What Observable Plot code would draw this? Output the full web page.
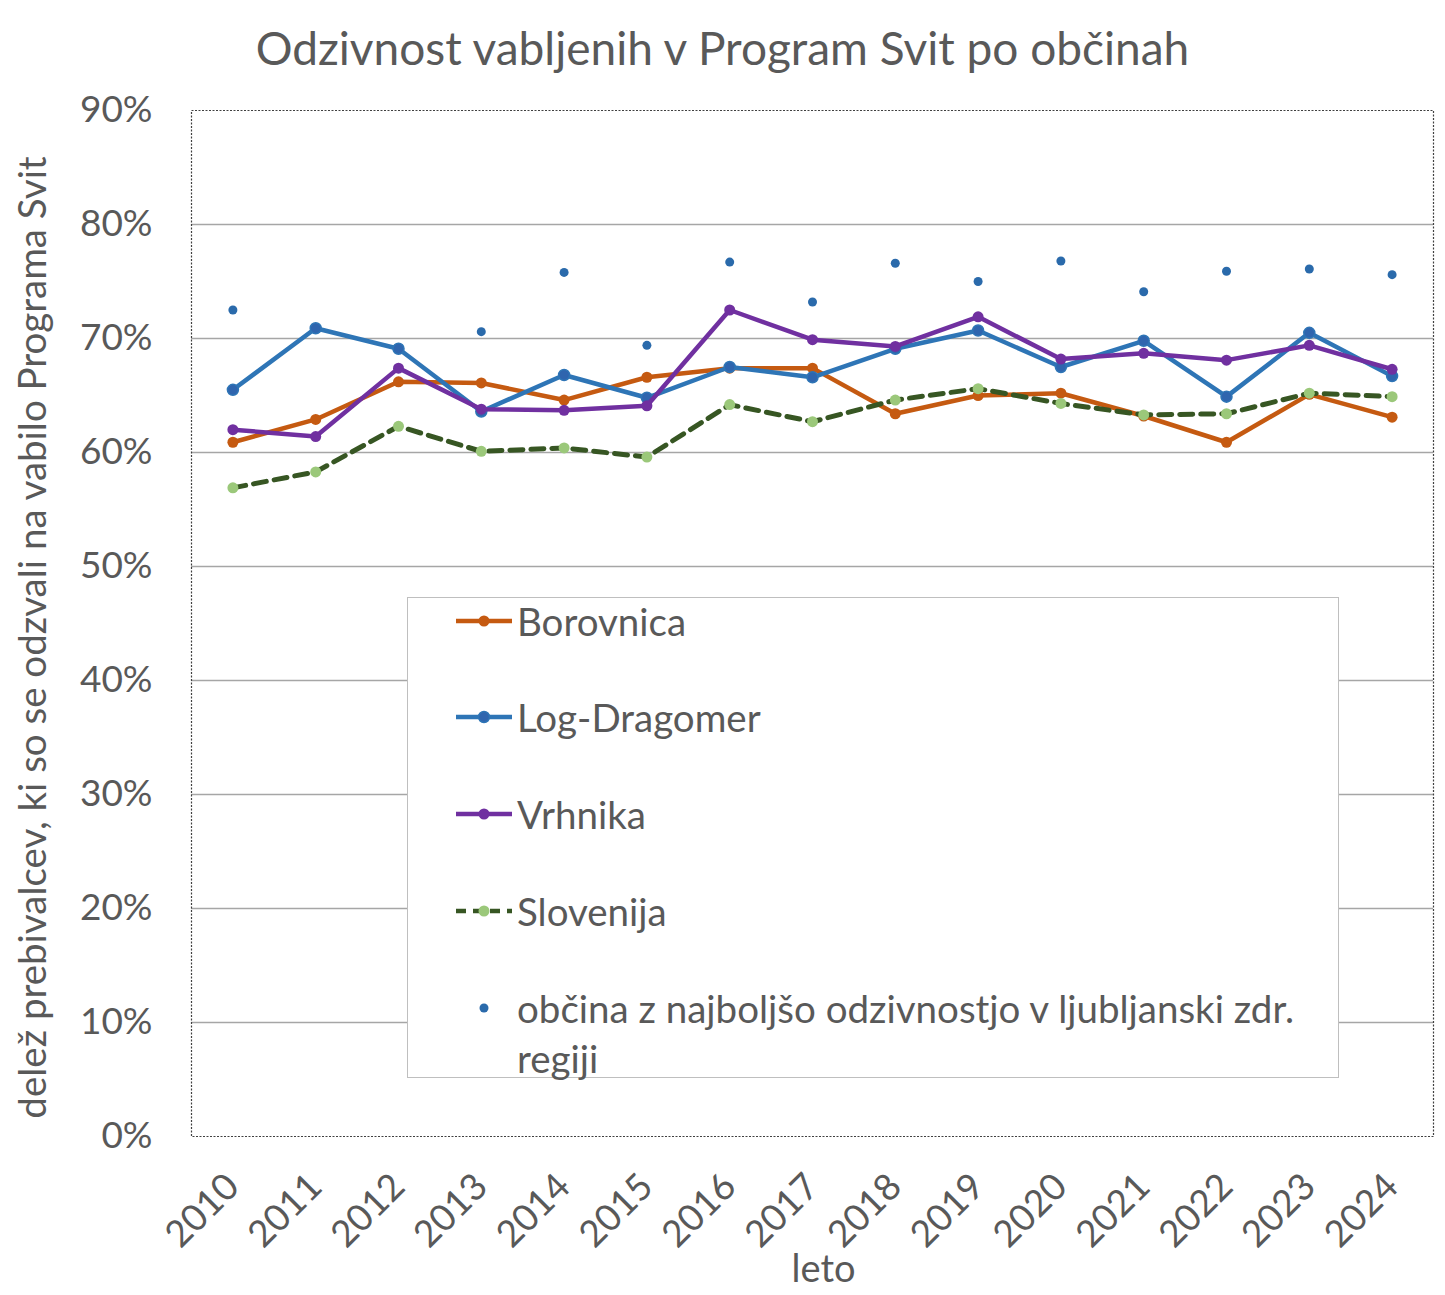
<!DOCTYPE html>
<html>
<head>
<meta charset="utf-8">
<script src="https://cdn.jsdelivr.net/npm/d3@7"></script>
<script src="https://cdn.jsdelivr.net/npm/@observablehq/plot@0.6"></script>
<style>
  html, body { margin: 0; padding: 0; background: #fff; }
  body { width: 1445px; height: 1295px; position: relative; overflow: hidden; font-family: Lato, "Open Sans", sans-serif; }
  #title { height: 90px; line-height: 96px; text-align: center; font-size: 46px; color: #595959; }
  #legend { position: absolute; left: 407px; top: 597px; width: 932px; height: 481px; background: #fff; border: 1px solid #bfbfbf; box-sizing: border-box; }
  .entry { position: absolute; left: 0; width: 900px; font-size: 38.5px; color: #595959; }
  .entry svg { position: absolute; left: 46px; }
  .entry span { position: absolute; left: 109px; white-space: nowrap; line-height: 50px; }
</style>
</head>
<body>
<div id="title">Odzivnost vabljenih v Program Svit po občinah</div>
<div id="chart"></div>
<div id="legend"></div>
<script>
const years = ["2010","2011","2012","2013","2014","2015","2016","2017","2018","2019","2020","2021","2022","2023","2024"];
const borovnica   = [60.9, 62.9, 66.2, 66.1, 64.6, 66.6, 67.4, 67.4, 63.4, 65.0, 65.2, 63.2, 60.9, 65.1, 63.1];
const logDragomer = [65.5, 70.9, 69.1, 63.6, 66.8, 64.8, 67.5, 66.6, 69.1, 70.7, 67.5, 69.8, 64.9, 70.5, 66.7];
const vrhnika     = [62.0, 61.4, 67.4, 63.8, 63.7, 64.1, 72.5, 69.9, 69.3, 71.9, 68.2, 68.7, 68.1, 69.4, 67.3];
const slovenija   = [56.9, 58.3, 62.3, 60.1, 60.4, 59.6, 64.2, 62.7, 64.6, 65.6, 64.3, 63.3, 63.4, 65.2, 64.9];
const najboljsa   = [72.5, null, null, 70.6, 75.8, 69.4, 76.7, 73.2, 76.6, 75.0, 76.8, 74.1, 75.9, 76.1, 75.6];
const yTicks = [0, 10, 20, 30, 40, 50, 60, 70, 80, 90];

const seriesNames = ["Borovnica", "Log-Dragomer", "Vrhnika", "Slovenija", "občina z najboljšo odzivnostjo v ljubljanski zdr. regiji"];
const lineColors = ["#C55A11", "#2E75B6", "#7030A0", "#375623", null];
const markerColors = ["#C55A11", "#2F65AE", "#7030A0", "#9BC87A", "#2A6AAB"];
const yLabel = "delež prebivalcev, ki so se odzvali na vabilo Programa Svit";
const xLabel = "leto";

const toRows = (vals) => years.map((y, i) => ({year: y, value: vals[i]})).filter(d => d.value != null);
const rowsB = toRows(borovnica), rowsL = toRows(logDragomer), rowsV = toRows(vrhnika), rowsS = toRows(slovenija), rowsN = toRows(najboljsa);

const chart = Plot.plot({
  width: 1445,
  height: 1205,
  marginTop: 20,
  marginBottom: 159,
  marginLeft: 191,
  marginRight: 12,
  style: {fontFamily: "Lato, 'Open Sans', sans-serif", background: "#fff", overflow: "visible"},
  x: {type: "point", domain: years, padding: 0.5, round: false},
  y: {domain: [0, 90]},
  marks: [
    Plot.gridY(yTicks.filter(t => t > 0 && t < 90), {stroke: "#a6a6a6", strokeOpacity: 1, strokeWidth: 1.3}),
    Plot.frame({stroke: "#404040", strokeDasharray: "2,1.5", strokeWidth: 1.2}),
    Plot.axisY({ticks: yTicks, tickSize: 0, tickPadding: 39, tickFormat: d => d + "%", fontSize: 37, color: "#595959", label: null}),
    Plot.axisX({tickSize: 0, tickPadding: 44, tickRotate: -45, fontSize: 37, color: "#595959", label: null}),
    Plot.text([yLabel], {frameAnchor: "left", rotate: -90, textAnchor: "middle", lineAnchor: "top", dx: -173, dy: 14, fontSize: 38.5, fill: "#595959"}),
    Plot.text([xLabel], {frameAnchor: "bottom", textAnchor: "middle", lineAnchor: "bottom", dx: 11, dy: 145, fontSize: 38, fill: "#595959"}),
    Plot.line(rowsB, {x: "year", y: "value", stroke: lineColors[0], strokeWidth: 4.5}),
    Plot.dot(rowsB, {x: "year", y: "value", r: 5.5, fill: markerColors[0]}),
    Plot.line(rowsL, {x: "year", y: "value", stroke: lineColors[1], strokeWidth: 4.5}),
    Plot.dot(rowsL, {x: "year", y: "value", r: 5.5, fill: markerColors[1], stroke: lineColors[1], strokeWidth: 1.5}),
    Plot.line(rowsV, {x: "year", y: "value", stroke: lineColors[2], strokeWidth: 4.5}),
    Plot.dot(rowsV, {x: "year", y: "value", r: 5.5, fill: markerColors[2]}),
    Plot.line(rowsS, {x: "year", y: "value", stroke: lineColors[3], strokeWidth: 5, strokeDasharray: "13,8"}),
    Plot.dot(rowsS, {x: "year", y: "value", r: 5.5, fill: markerColors[3]}),
    Plot.dot(rowsN, {x: "year", y: "value", r: 4.5, fill: markerColors[4]})
  ]
});
document.getElementById("chart").appendChild(chart);

// legend
const legend = document.getElementById("legend");
const entryTops = [23, 119, 216, 313, 410];
seriesNames.forEach((name, i) => {
  const div = document.createElement("div");
  div.className = "entry";
  div.style.top = (entryTops[i] - 25) + "px";
  let sw = `<svg width="60" height="50" style="top:0">`;
  if (lineColors[i]) {
    const dash = i === 3 ? ` stroke-dasharray="10,7"` : "";
    sw += `<line x1="2" x2="58" y1="25" y2="25" stroke="${lineColors[i]}" stroke-width="4.5"${dash}/>`;
    sw += `<circle cx="30" cy="25" r="5.5" fill="${markerColors[i]}"${i === 1 ? ` stroke="${lineColors[1]}" stroke-width="1.5"` : ""}/>`;
  } else {
    sw += `<circle cx="30" cy="25" r="4.5" fill="${markerColors[i]}"/>`;
  }
  sw += `</svg>`;
  const label = i === 4 ? "občina z najboljšo odzivnostjo v ljubljanski zdr.<br>regiji" : name;
  div.innerHTML = sw + `<span style="top:0">${label}</span>`;
  legend.appendChild(div);
});
</script>
</body>
</html>
